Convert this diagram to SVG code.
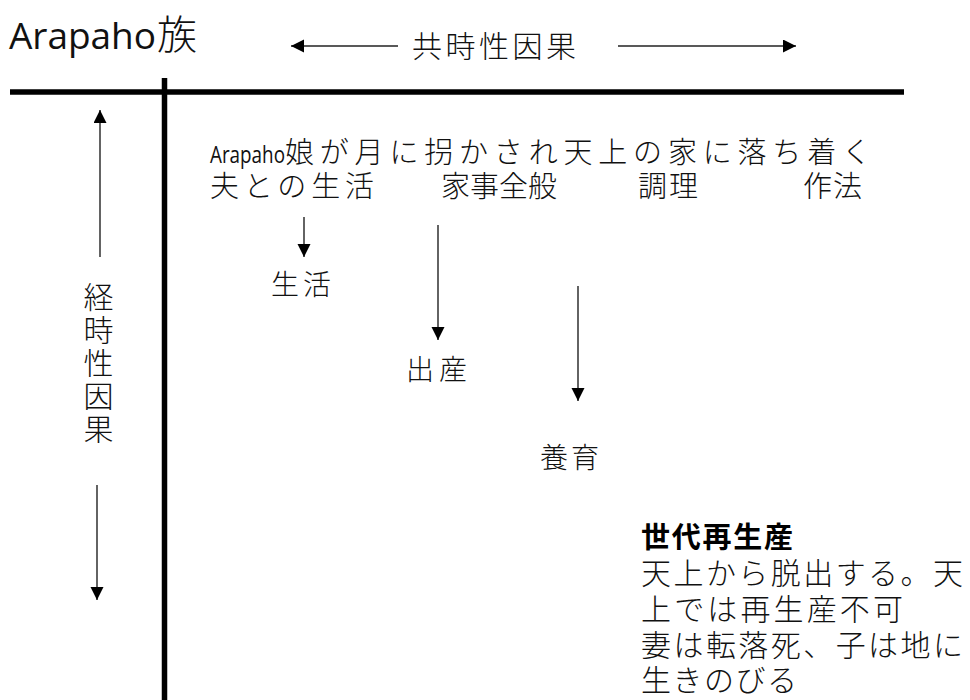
<svg xmlns="http://www.w3.org/2000/svg" width="970" height="700" viewBox="0 0 970 700">
<defs>
<marker id="ah" markerUnits="userSpaceOnUse" markerWidth="14" markerHeight="14" refX="13" refY="6.5" orient="auto">
<path d="M0,0 L13,6.5 L0,13 Z" fill="#000"/>
</marker>
<style>
.jp{font-family:"Noto Sans CJK JP","Noto Sans CJK SC",sans-serif;font-weight:300;fill:#111}
.lat{font-family:"Open Sans","Liberation Sans",sans-serif;fill:#111}
.axis{stroke:#000;stroke-width:5.5;fill:none}
.arr{stroke:#222;stroke-width:1.4;fill:none;marker-end:url(#ah)}
</style>
</defs>
<rect width="970" height="700" fill="#fff"/>
<g id="title">
<text class="lat" x="9" y="49" font-size="37" textLength="147">Arapaho</text>
<text class="jp" x="157" y="49" font-size="40">族</text>
</g>
<g id="axes">
<line class="axis" x1="10" y1="92" x2="904" y2="92"/>
<line class="axis" x1="164.5" y1="78" x2="164.5" y2="700"/>
</g>
<g id="label-synchronic">
<text class="jp" x="412" y="57" font-size="30" textLength="164">共時性因果</text>
</g>
<g id="label-diachronic">
<text class="jp" x="98.5" y="282" font-size="30" writing-mode="vertical-rl" letter-spacing="3">経時性因果</text>
</g>
<g id="node-main">
<text class="lat" x="210" y="163" font-size="23" textLength="75" lengthAdjust="spacingAndGlyphs">Arapaho</text>
<text class="jp" x="285" y="163" font-size="29" textLength="586">娘が月に拐かされ天上の家に落ち着く</text>
</g>
<g id="node-husband"><text class="jp" x="210" y="197" font-size="29" textLength="164">夫との生活</text></g>
<g id="node-housework"><text class="jp" x="441" y="197" font-size="29" textLength="116">家事全般</text></g>
<g id="node-cooking"><text class="jp" x="638" y="197" font-size="29" textLength="60">調理</text></g>
<g id="node-manners"><text class="jp" x="803" y="197" font-size="29" textLength="59">作法</text></g>
<g id="node-life"><text class="jp" x="271" y="295" font-size="28" textLength="60">生活</text></g>
<g id="node-birth"><text class="jp" x="406" y="380" font-size="28" textLength="61">出産</text></g>
<g id="node-rearing"><text class="jp" x="540" y="468" font-size="28" textLength="59">養育</text></g>
<g id="node-reproduction">
<text x="641" y="548" font-family="Noto Sans CJK JP, sans-serif" font-weight="700" font-size="29" fill="#000" textLength="152">世代再生産</text>
<text class="jp" x="641" y="584" font-size="30" textLength="322">天上から脱出する。天</text>
<text class="jp" x="641" y="620" font-size="30" textLength="262">上では再生産不可</text>
<text class="jp" x="641" y="656" font-size="30" textLength="322">妻は転落死、子は地に</text>
<text class="jp" x="641" y="691" font-size="30" textLength="156">生きのびる</text>
</g>
<g id="connectors">
<line class="arr" x1="398" y1="46" x2="291" y2="46"/>
<line class="arr" x1="618" y1="46" x2="796" y2="46"/>
<line class="arr" x1="100" y1="257" x2="100" y2="110"/>
<line class="arr" x1="97" y1="485" x2="97" y2="600"/>
<line class="arr" x1="304" y1="217" x2="304" y2="257"/>
<line class="arr" x1="438" y1="225" x2="438" y2="340"/>
<line class="arr" x1="578" y1="286" x2="578" y2="401"/>
</g>
</svg>
